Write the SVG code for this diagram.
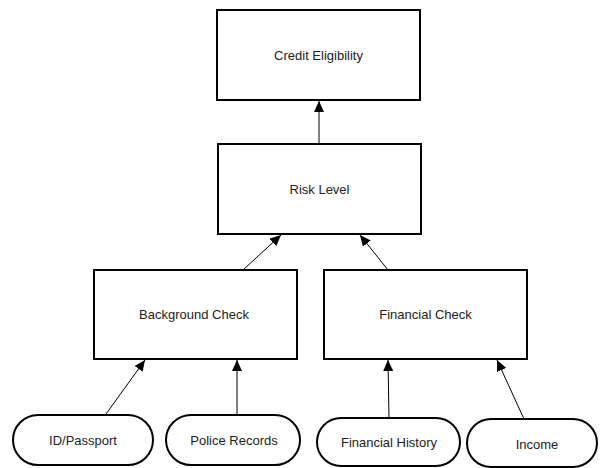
<svg xmlns="http://www.w3.org/2000/svg" width="600" height="468" viewBox="0 0 600 468">
<style>
.box{fill:#fff;stroke:#000;stroke-width:2}
.t{font-family:"Liberation Sans",Arial,sans-serif;font-size:13px;fill:#222;text-anchor:middle;dominant-baseline:central}
.c{stroke:#000;stroke-width:1;fill:none;marker-end:url(#ah)}
</style>
<defs>
<marker id="ah" markerWidth="11" markerHeight="10" refX="11" refY="5" orient="auto" markerUnits="userSpaceOnUse">
<path d="M0,0 L11,5 L0,10 Z" fill="#000"/>
</marker>
</defs>
<rect width="600" height="468" fill="#fff"/>
<g id="connectors">
<line class="c" x1="319" y1="144" x2="319" y2="101"/>
<line class="c" x1="243" y1="270" x2="281" y2="235"/>
<line class="c" x1="388" y1="270" x2="360" y2="235"/>
<line class="c" x1="106" y1="414" x2="145" y2="360"/>
<line class="c" x1="237" y1="414" x2="237" y2="360"/>
<line class="c" x1="389" y1="418" x2="388" y2="360"/>
<line class="c" x1="524" y1="419" x2="497" y2="360"/>
</g>
<g id="credit-eligibility">
<rect class="box" x="217" y="10" width="203" height="90"/>
<text class="t" x="318.5" y="55">Credit Eligibility</text>
</g>
<g id="risk-level">
<rect class="box" x="218" y="144" width="203" height="90"/>
<text class="t" x="319.5" y="189">Risk Level</text>
</g>
<g id="background-check">
<rect class="box" x="94" y="270" width="203" height="89"/>
<text class="t" x="194" y="314">Background Check</text>
</g>
<g id="financial-check">
<rect class="box" x="324" y="270" width="203" height="89"/>
<text class="t" x="425.5" y="314">Financial Check</text>
</g>
<g id="id-passport">
<rect class="box" x="13" y="415" width="140" height="50" rx="25" ry="25"/>
<text class="t" x="83" y="440">ID/Passport</text>
</g>
<g id="police-records">
<rect class="box" x="166" y="415" width="134" height="50" rx="25" ry="25"/>
<text class="t" x="234" y="440">Police Records</text>
</g>
<g id="financial-history">
<rect class="box" x="317" y="418" width="143" height="48" rx="24" ry="24"/>
<text class="t" x="389" y="442">Financial History</text>
</g>
<g id="income">
<rect class="box" x="467" y="419" width="130" height="48" rx="24" ry="24"/>
<text class="t" x="537" y="444">Income</text>
</g>
</svg>
